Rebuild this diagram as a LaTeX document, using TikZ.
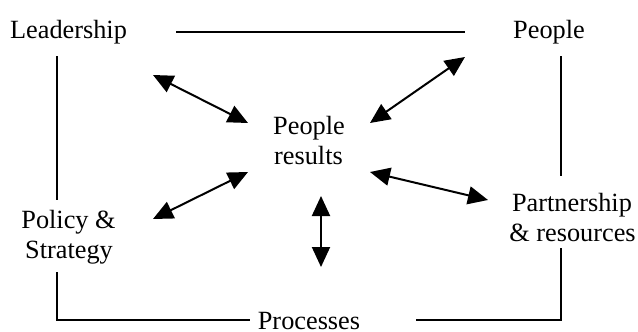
\documentclass[tikz,border=0pt]{standalone}
\usepackage{fontspec}
\setmainfont{Liberation Serif}
\usetikzlibrary{arrows.meta}
\tikzset{
  lbl/.style={anchor=base, inner sep=0pt, font=\fontsize{13.15}{15}\selectfont},
  link/.style={line width=0.9pt},
  rel/.style={line width=1pt, {Triangle[length=10pt,width=9pt]}-{Triangle[length=10pt,width=9pt]}}
}
\begin{document}
\begin{tikzpicture}[x=0.5pt,y=-0.5pt]
\useasboundingbox (0,0) rectangle (638,332);
% labels
\node[lbl] (lead) at (68.5,39) {Leadership};
\node[lbl] (peop) at (549,39) {People};
\node[lbl] (res1) at (309,134) {People};
\node[lbl] (res2) at (308.5,164) {results};
\node[lbl] (pol1) at (68.5,228) {Policy \&};
\node[lbl] (pol2) at (69,258) {Strategy};
\node[lbl] (par1) at (572,211) {Partnership};
\node[lbl] (par2) at (572.5,241) {\& resources};
\node[lbl] (proc) at (309,329) {Processes};
% frame connector ends
\coordinate (t1) at (176,32);
\coordinate (t2) at (465,32);
\coordinate (l1) at (57,56);
\coordinate (l2) at (57,200);
\coordinate (r1) at (561,56);
\coordinate (r2) at (561,176);
\coordinate (bl1) at (57,272);
\coordinate (bl2) at (250,320);
\coordinate (br1) at (416,320);
\coordinate (br2) at (561,248);
\draw[link] (t1) -- (t2);
\draw[link] (l1) -- (l2);
\draw[link] (r1) -- (r2);
\draw[link] (bl1) |- (bl2);
\draw[link] (br1) -| (br2);
% relation arrow ends
\coordinate (a1) at (153,75);  \coordinate (a1c) at (248,123);
\coordinate (a2) at (465,57);  \coordinate (a2c) at (370,123);
\coordinate (a3) at (153,219); \coordinate (a3c) at (248,172);
\coordinate (a4) at (488,200); \coordinate (a4c) at (370,172);
\coordinate (a5) at (321,267); \coordinate (a5c) at (321,196);
\draw[rel] (a1) -- (a1c);
\draw[rel] (a2) -- (a2c);
\draw[rel] (a3) -- (a3c);
\draw[rel] (a4) -- (a4c);
\draw[rel] (a5) -- (a5c);
\end{tikzpicture}
\end{document}
